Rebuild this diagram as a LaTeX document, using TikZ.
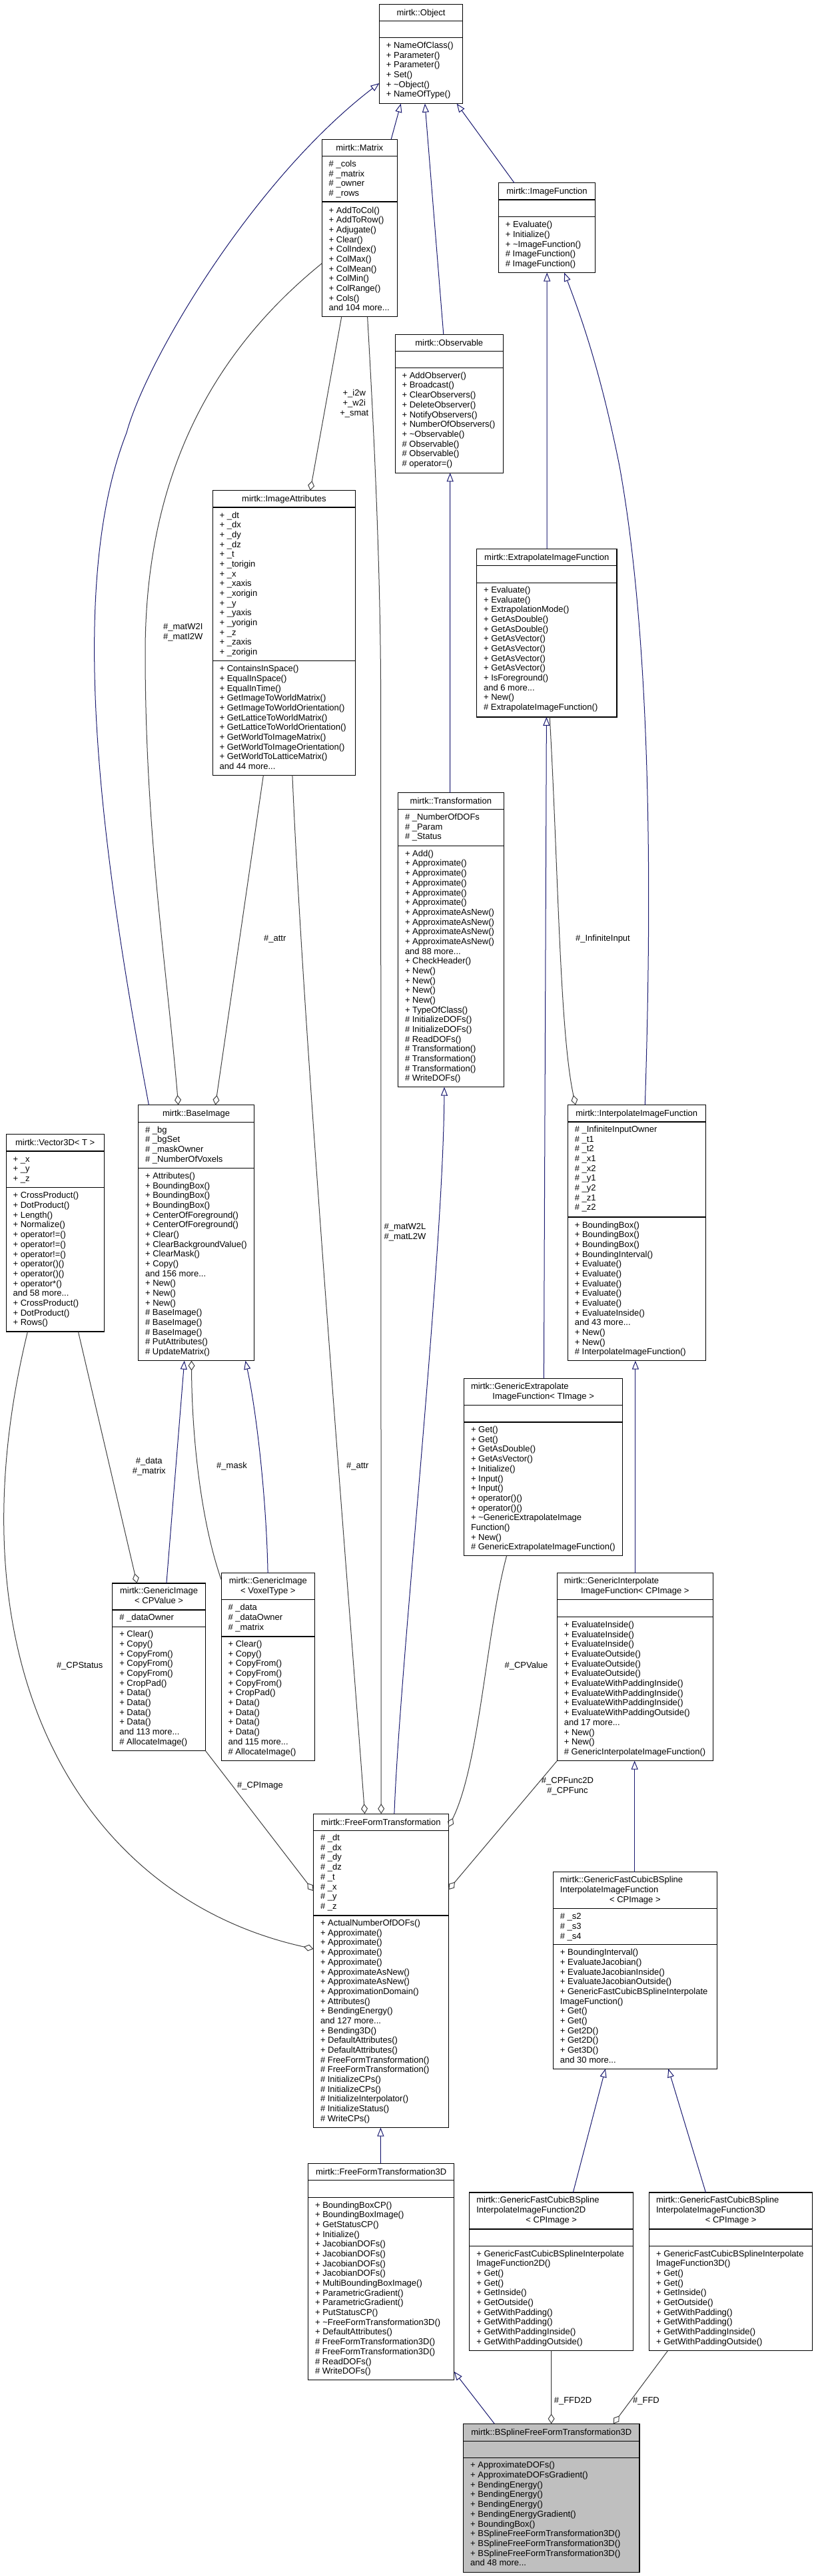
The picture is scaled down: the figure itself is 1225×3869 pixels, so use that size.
\documentclass[tikz,border=0pt]{standalone}
\usepackage{fontspec}
\setmainfont{Liberation Sans}
\usetikzlibrary{arrows.meta}
\definecolor{edgeblue}{HTML}{191970}
\definecolor{edgegray}{HTML}{404040}
\definecolor{bspgray}{HTML}{BFBFBF}
\newcommand\mdots{...}
\newcommand\cbox[6][]{\node[cbox,#1,minimum width={(#5-#3)*1pt},minimum height={(#6-#4)*1pt}] (#2) at (#3,#4) {};}
\newcommand\csep[3]{\draw[sepl] (#1,#3) -- (#2,#3);}
\newcommand\ctitle[4]{\node[ttext] (#1) at (#2,{#3+4.3}) {#4};}
\newcommand\ltitle[4]{\node[mtext] (#1) at (#2,{#3+4.3}) {#4};}
\newcommand\mlist[4]{\foreach \mlt [count=\mln] in {#4} {\node[mtext] (#1\mln) at (#2,{#3+(\mln-1)*14.68+4.3}) {\mlt};}}
\begin{document}
\begin{tikzpicture}[x=1pt,y=-1pt,
  every node/.style={font=\fontsize{13}{14.68}\selectfont},
  cbox/.style={draw=black,line width=1.2pt,fill=white,inner sep=0pt,outer sep=0pt,anchor=north west,rectangle},
  sepl/.style={draw=black,line width=1.2pt},
  mtext/.style={anchor=base west,inner sep=0pt,outer sep=0pt},
  ttext/.style={anchor=base,inner sep=0pt,outer sep=0pt},
  elabel/.style={align=center,inner sep=0pt,anchor=center},
  inh/.style={draw=edgeblue,line width=1pt,-{Triangle[open,length=13pt,width=10pt]}},
  agg/.style={draw=edgegray,line width=1pt,-{Diamond[open,length=15pt,width=10pt]}},
]
\path[use as bounding box,fill=white] (0,0) rectangle (1225,3869);

% Object
\cbox{obj}{569.4}{6.3}{694.5}{155.7}
\csep{569.4}{694.5}{31.6}\csep{569.4}{694.5}{56.8}
\ctitle{objt}{632}{19}{mirtk::Object}
\mlist{objm}{579.9}{68.2}{+ NameOfClass(),+ Parameter(),+ Parameter(),+ Set(),+ \textasciitilde{}Object(),+ NameOfType()}

% Matrix
\cbox{mat}{483.2}{209.2}{596.3}{475.6}
\csep{483.2}{596.3}{234.4}\csep{483.2}{596.3}{303}
\ctitle{matt}{539.75}{221.8}{mirtk::Matrix}
\mlist{mata}{493.7}{246.2}{\# \_cols,\# \_matrix,\# \_owner,\# \_rows}
\mlist{matm}{493.7}{315.7}{+ AddToCol(),+ AddToRow(),+ Adjugate(),+ Clear(),+ ColIndex(),+ ColMax(),+ ColMean(),+ ColMin(),+ ColRange(),+ Cols(),and 104 more\mdots}

% ImageFunction
\cbox{imf}{748.3}{274.8}{893.7}{409.5}
\csep{748.3}{893.7}{300}\csep{748.3}{893.7}{325.3}
\ctitle{imft}{821}{287.4}{mirtk::ImageFunction}
\mlist{imfm}{758.8}{337.5}{+ Evaluate(),+ Initialize(),+ \textasciitilde{}ImageFunction(),\# ImageFunction(),\# ImageFunction()}

% Observable
\cbox{obs}{593.1}{502.1}{755.4}{710.3}
\csep{593.1}{755.4}{527.4}\csep{593.1}{755.4}{552.6}
\ctitle{obst}{674.25}{514.75}{mirtk::Observable}
\mlist{obsm}{603.6}{564}{+ AddObserver(),+ Broadcast(),+ ClearObservers(),+ DeleteObserver(),+ NotifyObservers(),+ NumberOfObservers(),+ \textasciitilde{}Observable(),\# Observable(),\# Observable(),\# operator=()}

% ImageAttributes
\cbox{iat}{319.1}{736.8}{533.8}{1164.4}
\csep{319.1}{533.8}{762}\csep{319.1}{533.8}{992.3}
\ctitle{iatt}{426.45}{749.4}{mirtk::ImageAttributes}
\mlist{iata}{329.6}{773.8}{+ \_dt,+ \_dx,+ \_dy,+ \_dz,+ \_t,+ \_torigin,+ \_x,+ \_xaxis,+ \_xorigin,+ \_y,+ \_yaxis,+ \_yorigin,+ \_z,+ \_zaxis,+ \_zorigin}
\mlist{iatm}{329.6}{1004.5}{+ ContainsInSpace(),+ EqualInSpace(),+ EqualInTime(),+ GetImageToWorldMatrix(),+ GetImageToWorldOrientation(),+ GetLatticeToWorldMatrix(),+ GetLatticeToWorldOrientation(),+ GetWorldToImageMatrix(),+ GetWorldToImageOrientation(),+ GetWorldToLatticeMatrix(),and 44 more\mdots}

% ExtrapolateImageFunction
\cbox{ext}{715.6}{824.3}{926}{1076.9}
\csep{715.6}{926}{849.6}\csep{715.6}{926}{875.7}
\ctitle{extt}{820.8}{837}{mirtk::ExtrapolateImageFunction}
\mlist{extm}{726.1}{886.2}{+ Evaluate(),+ Evaluate(),+ ExtrapolationMode(),+ GetAsDouble(),+ GetAsDouble(),+ GetAsVector(),+ GetAsVector(),+ GetAsVector(),+ GetAsVector(),+ IsForeground(),and 6 more\mdots,+ New(),\# ExtrapolateImageFunction()}

% Transformation
\cbox{trf}{597.5}{1190.5}{756.2}{1632.7}
\csep{597.5}{756.2}{1215.8}\csep{597.5}{756.2}{1270.5}
\ctitle{trft}{676.85}{1203.2}{mirtk::Transformation}
\mlist{trfa}{608}{1227.1}{\# \_NumberOfDOFs,\# \_Param,\# \_Status}
\mlist{trfm}{608}{1282}{+ Add(),+ Approximate(),+ Approximate(),+ Approximate(),+ Approximate(),+ Approximate(),+ ApproximateAsNew(),+ ApproximateAsNew(),+ ApproximateAsNew(),+ ApproximateAsNew(),and 88 more\mdots,+ CheckHeader(),+ New(),+ New(),+ New(),+ New(),+ TypeOfClass(),\# InitializeDOFs(),\# InitializeDOFs(),\# ReadDOFs(),\# Transformation(),\# Transformation(),\# Transformation(),\# WriteDOFs()}

% InterpolateImageFunction
\cbox{itp}{852.3}{1659.6}{1059.1}{2043.7}
\csep{852.3}{1059.1}{1684.9}\csep{852.3}{1059.1}{1828}
\ctitle{itpt}{955.7}{1672.3}{mirtk::InterpolateImageFunction}
\mlist{itpa}{862.8}{1696.2}{\# \_InfiniteInputOwner,\# \_t1,\# \_t2,\# \_x1,\# \_x2,\# \_y1,\# \_y2,\# \_z1,\# \_z2}
\mlist{itpm}{862.8}{1839.8}{+ BoundingBox(),+ BoundingBox(),+ BoundingBox(),+ BoundingInterval(),+ Evaluate(),+ Evaluate(),+ Evaluate(),+ Evaluate(),+ Evaluate(),+ EvaluateInside(),and 43 more\mdots,+ New(),+ New(),\# InterpolateImageFunction()}

% BaseImage
\cbox{bim}{207.6}{1659.6}{381.6}{2043.7}
\csep{207.6}{381.6}{1685.3}\csep{207.6}{381.6}{1754.7}
\ctitle{bimt}{294.6}{1672.4}{mirtk::BaseImage}
\mlist{bima}{218.1}{1696.7}{\# \_bg,\# \_bgSet,\# \_maskOwner,\# \_NumberOfVoxels}
\mlist{bimm}{218.1}{1766.1}{+ Attributes(),+ BoundingBox(),+ BoundingBox(),+ BoundingBox(),+ CenterOfForeground(),+ CenterOfForeground(),+ Clear(),+ ClearBackgroundValue(),+ ClearMask(),+ Copy(),and 156 more\mdots,+ New(),+ New(),+ New(),\# BaseImage(),\# BaseImage(),\# BaseImage(),\# PutAttributes(),\# UpdateMatrix()}

% Vector3D
\cbox{v3d}{9.1}{1703.8}{156.2}{2000}
\csep{9.1}{156.2}{1729}\csep{9.1}{156.2}{1783.8}
\ctitle{v3dt}{82.65}{1716.4}{mirtk::Vector3D< T >}
\mlist{v3da}{19.6}{1740.9}{+ \_x,+ \_y,+ \_z}
\mlist{v3dm}{19.6}{1795.6}{+ CrossProduct(),+ DotProduct(),+ Length(),+ Normalize(),+ operator!=(),+ operator!=(),+ operator!=(),+ operator()(),+ operator()(),+ operator*(),and 58 more\mdots,+ CrossProduct(),+ DotProduct(),+ Rows()}

% GenericExtrapolateImageFunction
\cbox{gext}{696.5}{2070.3}{934.8}{2336.7}
\csep{696.5}{934.8}{2110.7}\csep{696.5}{934.8}{2135.9}
\ltitle{gextt}{707}{2082.5}{mirtk::GenericExtrapolate}
\ctitle{gextu}{815.65}{2097}{ImageFunction< TImage >}
\mlist{gextm}{707}{2147.3}{+ Get(),+ Get(),+ GetAsDouble(),+ GetAsVector(),+ Initialize(),+ Input(),+ Input(),+ operator()(),+ operator()(),+ \textasciitilde{}GenericExtrapolateImage,Function(),+ New(),\# GenericExtrapolateImageFunction()}

% GenericInterpolateImageFunction
\cbox{gint}{836.3}{2362.8}{1070.3}{2644.6}
\csep{836.3}{1070.3}{2402.7}\csep{836.3}{1070.3}{2428.4}
\ltitle{gintt}{846.8}{2374.5}{mirtk::GenericInterpolate}
\ctitle{gintu}{953.3}{2389.3}{ImageFunction< CPImage >}
\mlist{gintm}{846.8}{2440.2}{+ EvaluateInside(),+ EvaluateInside(),+ EvaluateInside(),+ EvaluateOutside(),+ EvaluateOutside(),+ EvaluateOutside(),+ EvaluateWithPaddingInside(),+ EvaluateWithPaddingInside(),+ EvaluateWithPaddingInside(),+ EvaluateWithPaddingOutside(),and 17 more\mdots,+ New(),+ New(),\# GenericInterpolateImageFunction()}

% GenericImage<CPValue>
\cbox{gicp}{168.8}{2377.9}{308.4}{2629.4}
\csep{168.8}{308.4}{2417.9}\csep{168.8}{308.4}{2443.1}
\ctitle{gicpt}{238.6}{2389.3}{mirtk::GenericImage}
\ctitle{gicpu}{238.6}{2404}{< CPValue >}
\mlist{gicpa}{179.3}{2429.3}{\# \_dataOwner}
\mlist{gicpm}{179.3}{2454.5}{+ Clear(),+ Copy(),+ CopyFrom(),+ CopyFrom(),+ CopyFrom(),+ CropPad(),+ Data(),+ Data(),+ Data(),+ Data(),and 113 more\mdots,\# AllocateImage()}

% GenericImage<VoxelType>
\cbox{givt}{332.1}{2362.8}{472.5}{2644.2}
\csep{332.1}{472.5}{2402.7}\csep{332.1}{472.5}{2457.9}
\ctitle{givtt}{402.3}{2374.5}{mirtk::GenericImage}
\ctitle{givtu}{402.3}{2389.3}{< VoxelType >}
\mlist{givta}{342.6}{2414.5}{\# \_data,\# \_dataOwner,\# \_matrix}
\mlist{givtm}{342.6}{2469.2}{+ Clear(),+ Copy(),+ CopyFrom(),+ CopyFrom(),+ CopyFrom(),+ CropPad(),+ Data(),+ Data(),+ Data(),+ Data(),and 115 more\mdots,\# AllocateImage()}

% FreeFormTransformation
\cbox{fft}{470.5}{2724.1}{673.3}{3195.5}
\csep{470.5}{673.3}{2749.4}\csep{470.5}{673.3}{2876.9}
\ctitle{fftt}{571.9}{2736.75}{mirtk::FreeFormTransformation}
\mlist{ffta}{481}{2760.3}{\# \_dt,\# \_dx,\# \_dy,\# \_dz,\# \_t,\# \_x,\# \_y,\# \_z}
\mlist{fftm}{481}{2888.3}{+ ActualNumberOfDOFs(),+ Approximate(),+ Approximate(),+ Approximate(),+ Approximate(),+ ApproximateAsNew(),+ ApproximateAsNew(),+ ApproximationDomain(),+ Attributes(),+ BendingEnergy(),and 127 more\mdots,+ Bending3D(),+ DefaultAttributes(),+ DefaultAttributes(),\# FreeFormTransformation(),\# FreeFormTransformation(),\# InitializeCPs(),\# InitializeCPs(),\# InitializeInterpolator(),\# InitializeStatus(),\# WriteCPs()}

% GenericFastCubicBSplineInterpolateImageFunction
\cbox{gfc}{830.4}{2811.7}{1076.3}{3107.1}
\csep{830.4}{1076.3}{2866.4}\csep{830.4}{1076.3}{2920.7}
\ltitle{gfct}{840.9}{2823.5}{mirtk::GenericFastCubicBSpline}
\ltitle{gfcu}{840.9}{2838.2}{InterpolateImageFunction}
\ctitle{gfcv}{953.35}{2852.7}{< CPImage >}
\mlist{gfca}{840.9}{2878.6}{\# \_s2,\# \_s3,\# \_s4}
\mlist{gfcm}{840.9}{2932.5}{+ BoundingInterval(),+ EvaluateJacobian(),+ EvaluateJacobianInside(),+ EvaluateJacobianOutside(),+ GenericFastCubicBSplineInterpolate,ImageFunction(),+ Get(),+ Get(),+ Get2D(),+ Get2D(),+ Get3D(),and 30 more\mdots}

% FreeFormTransformation3D
\cbox{fft3}{462.6}{3249.1}{681.7}{3574.6}
\csep{462.6}{681.7}{3274.7}\csep{462.6}{681.7}{3300.3}
\ctitle{fft3t}{572.15}{3261.9}{mirtk::FreeFormTransformation3D}
\mlist{fft3m}{473.1}{3311.8}{+ BoundingBoxCP(),+ BoundingBoxImage(),+ GetStatusCP(),+ Initialize(),+ JacobianDOFs(),+ JacobianDOFs(),+ JacobianDOFs(),+ JacobianDOFs(),+ MultiBoundingBoxImage(),+ ParametricGradient(),+ ParametricGradient(),+ PutStatusCP(),+ \textasciitilde{}FreeFormTransformation3D(),+ DefaultAttributes(),\# FreeFormTransformation3D(),\# FreeFormTransformation3D(),\# ReadDOFs(),\# WriteDOFs()}

% 2D
\cbox{g2d}{704.8}{3293}{950.7}{3530.6}
\csep{704.8}{950.7}{3348}\csep{704.8}{950.7}{3373.6}
\ltitle{g2dt}{715.3}{3304.5}{mirtk::GenericFastCubicBSpline}
\ltitle{g2du}{715.3}{3319.2}{InterpolateImageFunction2D}
\ctitle{g2dv}{827.75}{3334}{< CPImage >}
\mlist{g2dm}{715.3}{3384.7}{+ GenericFastCubicBSplineInterpolate,ImageFunction2D(),+ Get(),+ Get(),+ GetInside(),+ GetOutside(),+ GetWithPadding(),+ GetWithPadding(),+ GetWithPaddingInside(),+ GetWithPaddingOutside()}

% 3D
\cbox{g3d}{974.6}{3293}{1219.8}{3530.6}
\csep{974.6}{1219.8}{3348}\csep{974.6}{1219.8}{3373.6}
\ltitle{g3dt}{985.1}{3304.5}{mirtk::GenericFastCubicBSpline}
\ltitle{g3du}{985.1}{3319.2}{InterpolateImageFunction3D}
\ctitle{g3dv}{1097.2}{3334}{< CPImage >}
\mlist{g3dm}{985.1}{3384.7}{+ GenericFastCubicBSplineInterpolate,ImageFunction3D(),+ Get(),+ Get(),+ GetInside(),+ GetOutside(),+ GetWithPadding(),+ GetWithPadding(),+ GetWithPaddingInside(),+ GetWithPaddingOutside()}

% BSplineFreeFormTransformation3D
\cbox[fill=bspgray]{bsp}{695.7}{3640.3}{959.9}{3863.4}
\csep{695.7}{959.9}{3666.3}\csep{695.7}{959.9}{3691.5}
\ctitle{bspt}{827.8}{3653.3}{mirtk::BSplineFreeFormTransformation3D}
\mlist{bspm}{706.2}{3702.6}{+ ApproximateDOFs(),+ ApproximateDOFsGradient(),+ BendingEnergy(),+ BendingEnergy(),+ BendingEnergy(),+ BendingEnergyGradient(),+ BoundingBox(),+ BSplineFreeFormTransformation3D(),+ BSplineFreeFormTransformation3D(),+ BSplineFreeFormTransformation3D(),and 48 more\mdots}

% ---------- connectors ----------
\draw[inh] ([xshift=104pt]mat.north west) -- ([xshift=32.4pt]obj.south west);
\draw[inh] ([xshift=23.9pt]imf.north west) -- ([xshift=116.3pt]obj.south west);
\draw[inh] ([xshift=72.7pt]obs.north west) -- ([xshift=68.5pt]obj.south west);
\draw[inh] ([xshift=15.8pt]bim.north west) .. controls (150,1270) and (100,880) .. (190,650) .. controls (220,540) and (380,270) .. ([yshift=-118.7pt]obj.north west);
\draw[agg] ([yshift=-186.4pt]mat.north west) .. controls (330,520) and (218,700) .. (218,980) .. controls (218,1250) and (250,1450) .. ([xshift=60.1pt]bim.north west);
\draw[agg] ([xshift=29.6pt]mat.south west) -- ([xshift=146.7pt]iat.north west);
\draw[agg] ([xshift=68.4pt]mat.south west) .. controls (561,640) and (571.4,850) .. (571.6,1050) -- ([xshift=101.7pt]fft.north west);
\draw[agg] ([xshift=76.3pt]iat.south west) -- ([xshift=115.8pt]bim.north west);
\draw[agg] ([xshift=119.8pt]iat.south west) .. controls (455,1550) and (520,2350) .. ([xshift=77.1pt]fft.north west);
\draw[inh] ([xshift=105.6pt]ext.north west) -- ([xshift=72.9pt]imf.south west);
\draw[inh] ([xshift=116pt]itp.north west) .. controls (980,1300) and (975,950) .. (930,700) .. controls (900,550) and (870,470) .. ([xshift=98.8pt]imf.south west);
\draw[inh] ([xshift=78.2pt]trf.north west) -- ([xshift=82.6pt]obs.south west);
\draw[agg] ([xshift=109.6pt]ext.south west) .. controls (838,1300) and (840,1550) .. ([xshift=11.7pt]itp.north west);
\draw[inh] ([xshift=119.9pt]gext.north west) -- ([xshift=104.8pt]ext.south west);
\draw[inh] ([xshift=117.6pt]gint.north west) -- ([xshift=101.6pt]itp.south west);
\draw[inh] ([xshift=122.3pt]gfc.north west) -- ([xshift=116.4pt]gint.south west);
\draw[inh] ([xshift=155.5pt]g2d.north west) -- ([xshift=78.5pt]gfc.south west);
\draw[inh] ([xshift=84.9pt]g3d.north west) -- ([xshift=172.9pt]gfc.south west);
\draw[inh] ([xshift=121.4pt]fft.north west) .. controls (600,2500) and (665,1900) .. ([xshift=69.5pt]trf.south west);
\draw[inh] ([xshift=81.1pt]gicp.north west) -- ([xshift=69.2pt]bim.south west);
\draw[inh] ([xshift=70pt]givt.north west) .. controls (400,2250) and (385,2120) .. ([xshift=160.9pt]bim.south west);
\draw[agg] ([yshift=-9.6pt]givt.north west) .. controls (300,2280) and (288,2150) .. ([xshift=79.9pt]bim.south west);
\draw[agg] ([xshift=108.3pt]v3d.south west) -- ([xshift=36.8pt]gicp.north west);
\draw[agg] ([xshift=32.4pt]v3d.south west) .. controls (-80,2500) and (120,2850) .. ([yshift=-203pt]fft.north west);
\draw[agg] (gicp.south east) -- ([yshift=-116pt]fft.north west);
\draw[agg] ([xshift=64.1pt]gext.south west) .. controls (730,2450) and (720,2650) .. ([yshift=-20pt]fft.north east);
\draw[agg] (gint.south west) -- ([yshift=-114pt]fft.north east);
\draw[inh] ([xshift=108.8pt]fft3.north west) -- ([xshift=100.9pt]fft.south west);
\draw[inh] ([xshift=46.6pt]bsp.north west) -- ([yshift=12.6pt]fft3.south east);
\draw[agg] ([xshift=122.8pt]g2d.south west) -- ([xshift=131.9pt]bsp.north west);
\draw[agg] ([xshift=27.9pt]g3d.south west) -- ([xshift=225.1pt]bsp.north west);

% ---------- labels ----------
\node[elabel] (l1) at (531.8,606) {+\_i2w\\+\_w2i\\+\_smat};
\node[elabel] (l2) at (274.8,949.4) {\#\_matW2I\\\#\_matI2W};
\node[elabel] (l3) at (412.8,1410.5) {\#\_attr};
\node[elabel] (l4) at (905,1410.5) {\#\_InfiniteInput};
\node[elabel] (l5) at (608,1851) {\#\_matW2L\\\#\_matL2W};
\node[elabel] (l6) at (223.8,2202.8) {\#\_data\\\#\_matrix};
\node[elabel] (l7) at (348,2202.4) {\#\_mask};
\node[elabel] (l8) at (536.8,2202.4) {\#\_attr};
\node[elabel] (l9) at (119.7,2502.5) {\#\_CPStatus};
\node[elabel] (l10) at (790,2502.5) {\#\_CPValue};
\node[elabel] (l11) at (390.5,2682.5) {\#\_CPImage};
\node[elabel] (l12) at (852,2682.5) {\#\_CPFunc2D\\\#\_CPFunc};
\node[elabel] (l13) at (860,3606.1) {\#\_FFD2D};
\node[elabel] (l14) at (970,3606.1) {\#\_FFD};
\end{tikzpicture}
\end{document}
